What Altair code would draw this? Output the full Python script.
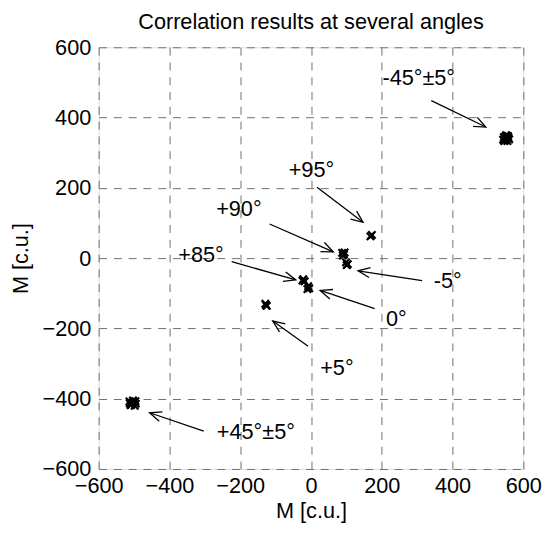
import math
import altair as alt
import pandas as pd

# ---- data ----
cluster_names = (["-45°±5°"] * 12 + ["+45°±5°"] * 11 + ["+95°"] * 2 + ["+90°"] * 4 +
                 ["-5°"] * 3 + ["+85°"] * 3 + ["0°"] * 3 + ["+5°"] * 3)
pts_x = [543, 548, 553, 557, 560, 546, 555, 551, 545, 558, 549, 554,
         -513, -507, -500, -495, -510, -503, -498, -512, -496, -505, -508,
         168, 172,
         88, 93, 90, 95,
         99, 104, 101,
         -22, -18, -24,
         -8, -5, -10,
         -129, -125, -127]
pts_y = [337, 345, 340, 347, 338, 333, 333, 350, 344, 342, 336, 348,
         -408, -415, -410, -414, -418, -405, -420, -413, -407, -411, -417,
         62, 66,
         15, 10, 7, 16,
         -12, -17, -20,
         -60, -66, -64,
         -80, -86, -88,
         -130, -136, -134]

labels = ["-45°±5°", "+95°", "+90°", "+85°", "-5°", "0°", "+5°", "+45°±5°"]
label_x = [202, -63, -268, -375, 347, 212, 26, -266]
label_y = [513, 250, 139, 8, -66, -174, -314, -496]

arrow_x0 = [340, 17, -117, -224, 314, 180, -8, -303]
arrow_y0 = [448, 202, 97, -10, -64, -144, -251, -492]
arrow_x1 = [494, 147, 63, -43, 133, 26, -108, -456]
arrow_y1 = [373, 102, 18, -62, -36, -92, -179, -440]

ticks = [-600, -400, -200, 0, 200, 400, 600]

W, H = 431, 428
FONT = "Liberation Sans"
FS = 22

pts = pd.DataFrame({"x": pts_x, "y": pts_y, "g": cluster_names})
lab = pd.DataFrame({"x": label_x, "y": label_y, "t": labels})
arr = pd.DataFrame({"x": arrow_x0, "y": arrow_y0, "x2": arrow_x1, "y2": arrow_y1})
arr["ang"] = [
    (math.degrees(math.atan2(-(b1 - b0) * H / 1200.0, (a1 - a0) * W / 1200.0)) + 360) % 360
    for a0, b0, a1, b1 in zip(arrow_x0, arrow_y0, arrow_x1, arrow_y1)
]

xs = alt.Scale(domain=[-600, 600], nice=False, zero=False)
ys = alt.Scale(domain=[-600, 600], nice=False, zero=False)

common = dict(values=ticks, title="M [c.u.]", grid=True, gridColor="#6e6e6e",
              gridDash=[8, 7], gridWidth=1, gridOpacity=1, ticks=False,
              domain=False, labelFont=FONT, labelFontSize=FS, labelColor="black",
              titleFont=FONT, titleFontSize=FS, titleFontWeight="normal",
              titleColor="black", labelFlush=False)
xaxis = alt.Axis(labelPadding=7, titlePadding=4, **common)
yaxis = alt.Axis(labelPadding=8, titlePadding=10, **common)

points = alt.Chart(pts).mark_point(
    shape="M-1,-1L1,1M-1,1L1,-1", size=56, filled=False, color="black",
    strokeWidth=2.2, opacity=1
).encode(x=alt.X("x:Q", scale=xs, axis=xaxis), y=alt.Y("y:Q", scale=ys, axis=yaxis))

lines = alt.Chart(arr).mark_rule(color="black", strokeWidth=1.3).encode(
    x=alt.X("x:Q", scale=xs), y=alt.Y("y:Q", scale=ys), x2="x2:Q", y2="y2:Q")

heads = alt.Chart(arr).mark_point(
    shape="M-1,-0.42L0,0L-1,0.42", size=576, filled=False, color="black",
    strokeWidth=1.3, opacity=1
).encode(x=alt.X("x2:Q", scale=xs), y=alt.Y("y2:Q", scale=ys),
         angle=alt.Angle("ang:Q", scale=None))

texts = alt.Chart(lab).mark_text(
    align="left", baseline="middle", font=FONT, fontSize=FS, color="black"
).encode(x=alt.X("x:Q", scale=xs), y=alt.Y("y:Q", scale=ys), text="t:N")

chart = alt.layer(points, lines, heads, texts).properties(
    width=W, height=H,
    title=alt.TitleParams("Correlation results at several angles", font=FONT,
                          fontSize=FS, fontWeight="normal", color="black",
                          anchor="middle", offset=3),
    autosize=alt.AutoSizeParams(type="none"),
    padding={"left": 92, "top": 36, "right": 22, "bottom": 53},
).configure_view(stroke="black", strokeWidth=1.2).configure(background="white")

chart.save("out.html", embed_options={"renderer": "svg", "actions": False})
